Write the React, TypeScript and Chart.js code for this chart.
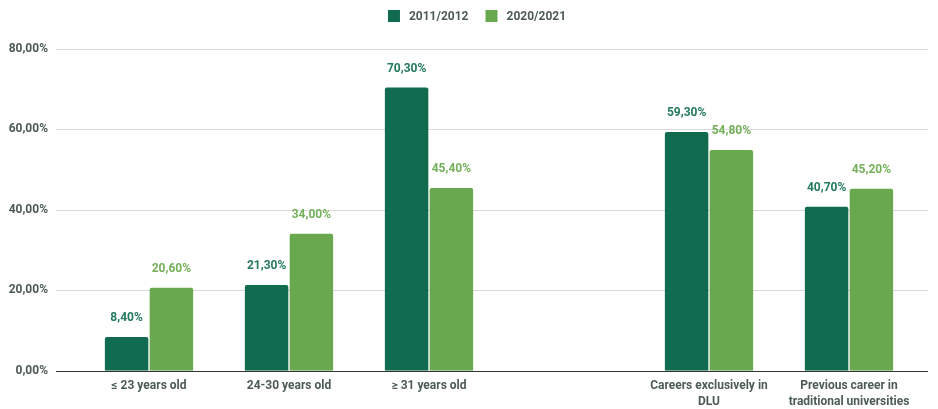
import React, { useEffect, useRef } from "react";
import { Chart, registerables } from "chart.js";
Chart.register(...registerables);

const categories: (string | string[])[] = [
  "≤ 23 years old",
  "24-30 years old",
  "≥ 31 years old",
  "",
  ["Careers exclusively in", "DLU"],
  ["Previous career in", "traditional universities"],
];
const series2011: (number | null)[] = [8.4, 21.3, 70.3, null, 59.3, 40.7];
const series2020: (number | null)[] = [20.6, 34.0, 45.4, null, 54.8, 45.2];
const seriesNames = ["2011/2012", "2020/2021"];
const yTicks = [0, 20, 40, 60, 80];

const DARK = "#116b4f";
const LIGHT = "#6aa84f";
const DARK_LABEL = "#237a5c";
const LIGHT_LABEL = "#74b05a";
const TEXT = "#4d5b57";
const FONT = "Roboto";

const fmt = (v: number) => v.toFixed(2).replace(".", ",") + "%";

export default function App() {
  const ref = useRef<HTMLCanvasElement | null>(null);
  useEffect(() => {
    document.body.style.margin = "0";
    const canvas = ref.current!;
    const gridPlugin = {
      id: "extGrid",
      beforeDatasetsDraw(chart: any) {
        const ctx = chart.ctx;
        const y = chart.scales.y;
        ctx.save();
        ctx.strokeStyle = "#d9d9d9";
        ctx.lineWidth = 1;
        yTicks.forEach((t) => {
          if (t === 0) return;
          const py = Math.round(y.getPixelForValue(t)) + 0.5;
          ctx.beginPath();
          ctx.moveTo(56, py);
          ctx.lineTo(928, py);
          ctx.stroke();
        });
        ctx.restore();
      },
      afterDatasetsDraw(chart: any) {
        const ctx = chart.ctx;
        const y = chart.scales.y;
        ctx.save();
        const py = Math.round(y.getPixelForValue(0)) + 0.5;
        ctx.strokeStyle = "#333333";
        ctx.lineWidth = 1;
        ctx.beginPath();
        ctx.moveTo(56, py);
        ctx.lineTo(928, py);
        ctx.stroke();
        // data labels
        ctx.font = `bold 12px ${FONT}`;
        ctx.textAlign = "center";
        ctx.textBaseline = "middle";
        chart.data.datasets.forEach((ds: any, di: number) => {
          const meta = chart.getDatasetMeta(di);
          ctx.fillStyle = di === 0 ? DARK_LABEL : LIGHT_LABEL;
          meta.data.forEach((bar: any, i: number) => {
            const v = ds.data[i];
            if (v === null || v === undefined) return;
            ctx.fillText(fmt(v), bar.x, bar.y - 19);
          });
        });
        // legend
        ctx.font = `bold 12px ${FONT}`;
        ctx.textAlign = "left";
        const w1 = ctx.measureText(seriesNames[0]).width;
        const w2 = ctx.measureText(seriesNames[1]).width;
        const total = 12 + 9 + w1 + 17 + 12 + 9 + w2;
        let x = 477 - total / 2;
        const cy = 16;
        [DARK, LIGHT].forEach((c, k) => {
          ctx.fillStyle = c;
          ctx.fillRect(x, cy - 6, 12, 12);
          x += 12 + 9;
          ctx.fillStyle = TEXT;
          ctx.fillText(seriesNames[k], x, cy + 1);
          x += (k === 0 ? w1 : w2) + 17;
        });
        ctx.restore();
      },
    };
    const chart = new Chart(canvas, {
      type: "bar",
      data: {
        labels: categories as any,
        datasets: [
          {
            label: seriesNames[0],
            data: series2011,
            backgroundColor: DARK,
            borderRadius: { topLeft: 2, topRight: 2, bottomLeft: 0, bottomRight: 0 },
            borderSkipped: false,
            categoryPercentage: 0.64,
            barPercentage: 0.97,
          },
          {
            label: seriesNames[1],
            data: series2020,
            backgroundColor: LIGHT,
            borderRadius: { topLeft: 2, topRight: 2, bottomLeft: 0, bottomRight: 0 },
            borderSkipped: false,
            categoryPercentage: 0.64,
            barPercentage: 0.97,
          },
        ],
      },
      options: {
        animation: false,
        responsive: false,
        maintainAspectRatio: false,
        layout: { padding: { top: 48.5, right: 19, bottom: -2, left: 0 } },
        plugins: {
          legend: { display: false },
          tooltip: { enabled: false },
        },
        scales: {
          x: {
            grid: { display: false, drawTicks: false },
            border: { display: false },
            ticks: {
              color: TEXT,
              font: { family: FONT, size: 12, weight: "bold", lineHeight: 1.35 },
              padding: 7,
              maxRotation: 0,
              autoSkip: false,
            },
            afterFit: (s: any) => {
              s.height = 36;
            },
          },
          y: {
            min: 0,
            max: 80,
            grid: { display: false, drawTicks: false },
            border: { display: false },
            ticks: {
              stepSize: 20,
              color: TEXT,
              font: { family: FONT, size: 12, weight: "bold" },
              padding: 31,
              callback: (v: any) => fmt(Number(v)),
            },
            afterFit: (s: any) => {
              s.width = 79;
            },
          },
        },
      },
      plugins: [gridPlugin],
    });
    return () => chart.destroy();
  }, []);
  return <canvas ref={ref} width={938} height={409} style={{ display: "block" }} />;
}
